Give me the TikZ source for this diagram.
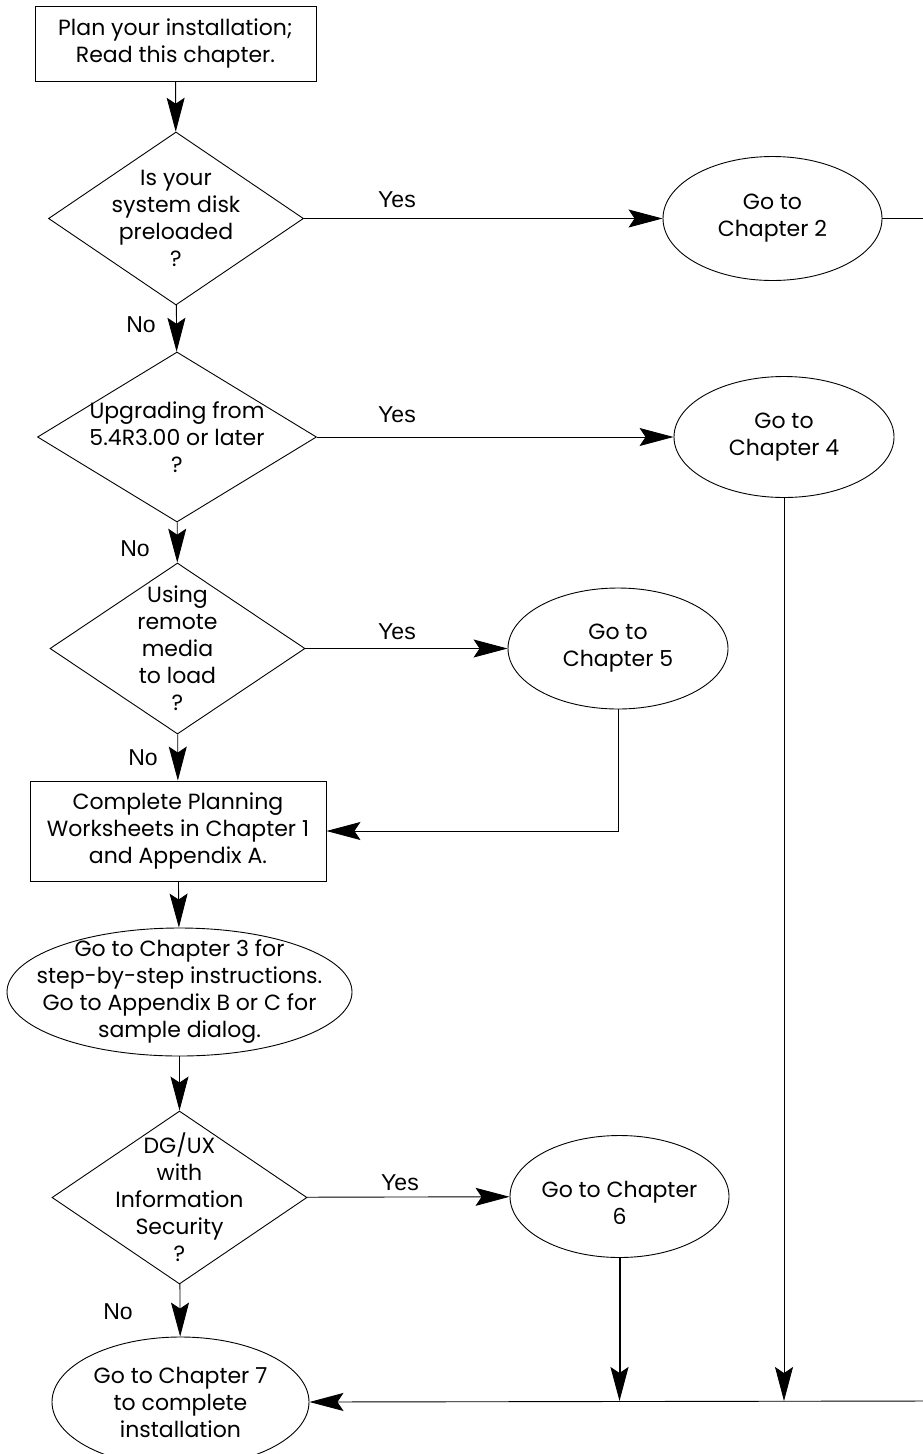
\documentclass[tikz,border=0pt]{standalone}
\usepackage{fontspec}
\setmainfont{Poppins}
\newfontfamily\yesnofont{Liberation Sans}
\usetikzlibrary{shapes.geometric,arrows.meta}

\tikzset{
    every label/.style={font=\fontsize{22}{27}\selectfont, align=center},
    process/.style={draw, rectangle, line width=0.9pt, inner sep=0pt, font=\fontsize{22}{27}\selectfont, align=center},
    decision/.style={draw, diamond, line width=0.9pt, inner sep=0pt},
    goto/.style={draw, ellipse, line width=0.9pt, inner sep=0pt},
    answer/.style={font=\yesnofont\fontsize{23}{26}\selectfont},
    flow/.style={line width=0.9pt, -{Stealth[length=34pt, width=18pt, inset=6pt]}},
    wire/.style={line width=0.9pt}
}

\begin{document}
\begin{tikzpicture}[x=1pt, y=-1pt]
    \useasboundingbox (0,0) rectangle (922,1454);

    \node[process, minimum width=281pt, minimum height=75pt] (plan) at (175.5,43.5) {Plan your installation;\\Read this chapter.};
    \node[decision, minimum width=255pt, minimum height=173pt, label=center:{Is your\\system disk\\preloaded\\?}] (preload) at (176,218.5) {};
    \node[goto, minimum width=219pt, minimum height=124pt, label=center:{Go to\\Chapter 2}] (chtwo) at (772.5,218.5) {};
    \node[decision, minimum width=279pt, minimum height=170pt, label=center:{Upgrading from\\5.4R3.00 or later\\?}] (upgrade) at (177,437) {};
    \node[goto, minimum width=220pt, minimum height=121pt, label=center:{Go to\\Chapter 4}] (chfour) at (784,437) {};
    \node[decision, minimum width=255pt, minimum height=171pt, label=center:{Using\\remote\\media\\to load\\?}] (remote) at (177.5,648.5) {};
    \node[goto, minimum width=220pt, minimum height=121pt, label=center:{Go to\\Chapter 5}] (chfive) at (618,648.5) {};
    \node[process, minimum width=296pt, minimum height=100pt] (sheets) at (178,831) {Complete Planning\\Worksheets in Chapter 1\\and Appendix A.};
    \node[goto, minimum width=345pt, minimum height=128pt, label=center:{Go to Chapter 3 for\\step-by-step instructions.\\Go to Appendix B or C for\\sample dialog.}] (chthree) at (179.5,992) {};
    \node[decision, minimum width=255pt, minimum height=173pt, label=center:{DG/UX\\with\\Information\\Security\\?}] (secure) at (179.5,1197.5) {};
    \node[goto, minimum width=219pt, minimum height=122pt, label={[yshift=-6pt]center:{Go to Chapter\\6}}] (chsix) at (619.5,1196.5) {};
    \node[goto, minimum width=257pt, minimum height=130pt, label=center:{Go to Chapter 7\\to complete\\installation}] (chseven) at (180.5,1402) {};

    \node[answer] (yesa) at (397,200) {Yes};
    \node[answer] (yesb) at (397,415) {Yes};
    \node[answer] (yesc) at (397,632) {Yes};
    \node[answer] (yesd) at (400,1183) {Yes};
    \node[answer] (noa) at (141,325) {No};
    \node[answer] (nob) at (135,549) {No};
    \node[answer] (noc) at (143,758) {No};
    \node[answer] (nod) at (118,1312) {No};

    \coordinate (rtop) at (935,218.5);
    \coordinate (rbot) at (935,1401);

    \draw[flow] (plan) -- (preload);
    \draw[flow] (preload) -- (upgrade);
    \draw[flow] (upgrade) -- (remote);
    \draw[flow] (remote) -- (sheets);
    \draw[flow] (sheets) -- (chthree);
    \draw[flow] (chthree) -- (secure);
    \draw[flow] (secure) -- (chseven);

    \draw[flow] (preload) -- (chtwo);
    \draw[flow] (upgrade) -- (chfour);
    \draw[flow] (remote) -- (chfive);
    \draw[flow] (secure) -- (chsix);

    \draw[flow] (chfive.south) |- (sheets.east);
    \draw[wire] (chtwo.east) -- (rtop) -- (rbot);
    \draw[flow] (rbot) -- (chseven.east);
    \draw[flow] (chfour.south) -- (chfour.south |- rbot);
    \draw[flow, line width=2pt] (chsix.south) -- (chsix.south |- rbot);
\end{tikzpicture}
\end{document}
